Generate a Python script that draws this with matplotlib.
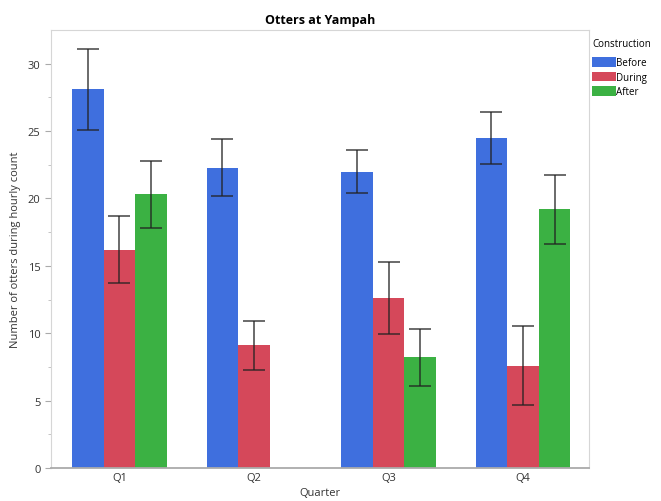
import numpy as np
import matplotlib
matplotlib.use('Agg')
import matplotlib.pyplot as plt
from matplotlib.patches import Patch

plt.rcParams['font.family'] = ['Open Sans', 'DejaVu Sans']

quarters = ['Q1', 'Q2', 'Q3', 'Q4']
groups = ['Before', 'During', 'After']
colors = ['#3f6fde', '#d5485a', '#3bb143']

# mean counts, nan where no data
means = {
    'Before': [28.1, 22.3, 22.0, 24.5],
    'During': [16.2, 9.1, 12.6, 7.6],
    'After':  [20.3, np.nan, 8.2, 19.2],
}
errs = {
    'Before': [3.0, 2.1, 1.6, 1.95],
    'During': [2.5, 1.8, 2.65, 2.9],
    'After':  [2.5, np.nan, 2.1, 2.55],
}

fig = plt.figure(figsize=(6.61, 5.02), dpi=100)
ax = fig.add_axes([0.077, 0.066, 0.814, 0.872])

x = np.arange(len(quarters))
w = 0.235
for i, g in enumerate(groups):
    pos = x + (i - 1) * w
    ax.bar(pos, means[g], width=w, color=colors[i], edgecolor='none')
    ax.errorbar(pos, means[g], yerr=errs[g], fmt='none', ecolor='#222222',
                elinewidth=1.1, capsize=8, capthick=1.1, alpha=0.85)

ax.set_xlim(-0.51, 3.49)
ax.set_ylim(0, 32.5)
ax.set_xticks(x)
ax.set_xticklabels(quarters)
ax.set_yticks(np.arange(0, 31, 5))
ax.set_yticks(np.arange(0, 32.5, 2.5), minor=True)
ax.tick_params(axis='x', length=0, labelsize=8, colors='#333333', pad=3)
ax.tick_params(axis='y', which='major', length=4, color='#aaaaaa', labelsize=8, labelcolor='#333333')
ax.tick_params(axis='y', which='minor', length=2, color='#bbbbbb')
for s in ['top', 'right']:
    ax.spines[s].set_color('#d6d6d6')
ax.spines['left'].set_color('#d6d6d6')
ax.spines['bottom'].set_color('#aaaaaa')
ax.spines['bottom'].set_linewidth(1.3)

ax.set_xlabel('Quarter', fontsize=8, color='#333333', labelpad=3)
ax.set_ylabel('Number of otters during hourly count', fontsize=8, color='#333333', labelpad=5)
ax.set_title('Otters at Yampah', fontsize=9, fontweight='bold', pad=5)

handles = [Patch(facecolor=c, edgecolor='none') for c in colors]
leg = fig.legend(handles, groups, title='Construction', loc='upper left',
                 bbox_to_anchor=(0.89, 0.93), frameon=False, fontsize=7,
                 title_fontsize=7, handlelength=2.4, handleheight=1.1,
                 handletextpad=0.1, labelspacing=0.35, borderaxespad=0)
leg._legend_box.align = 'left'
leg._legend_box.sep = 6

fig.savefig('out.png', dpi=100)
